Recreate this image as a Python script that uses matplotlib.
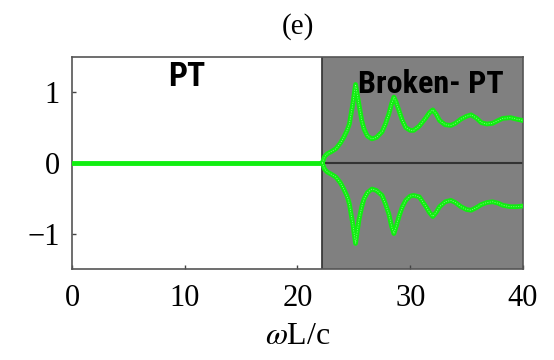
import numpy as np
import matplotlib
matplotlib.use('Agg')
import matplotlib.pyplot as plt
from matplotlib import font_manager

# transition point between PT and broken-PT phase
x_break = 22.2

# unbroken phase: eigenvalue stays at zero
pt_x = [0.0, 22.2]
pt_y = [0.0, 0.0]

# broken phase
bk_x = [22.2, 22.4, 22.65, 23.0, 23.4, 23.8, 24.1, 24.4, 24.6, 24.9, 25.15, 25.45,
        25.7, 25.9, 26.2, 26.6, 27.0, 27.5, 27.8, 28.1, 28.35, 28.55, 28.75, 29.0,
        29.3, 29.6, 30.0, 30.3, 30.8, 31.4, 31.7, 32.0, 32.3, 32.6, 33.1, 33.6,
        34.0, 34.5, 35.0, 35.4, 35.9, 36.3, 36.8, 37.3, 37.8, 38.2, 38.9, 39.4, 40.0]
bk_upper = [0, 0.09, 0.13, 0.16, 0.20, 0.28, 0.36, 0.46, 0.55, 0.83, 1.11, 0.83,
            0.60, 0.48, 0.38, 0.34, 0.36, 0.44, 0.55, 0.69, 0.84, 0.93, 0.86, 0.74,
            0.60, 0.50, 0.46, 0.46, 0.52, 0.64, 0.71, 0.75, 0.69, 0.60, 0.54, 0.53,
            0.56, 0.62, 0.66, 0.68, 0.63, 0.57, 0.55, 0.56, 0.60, 0.63, 0.64, 0.62, 0.60]
bk_lower = [0, -0.09, -0.13, -0.16, -0.20, -0.28, -0.37, -0.47, -0.58, -0.86, -1.14, -0.81,
            -0.62, -0.51, -0.42, -0.37, -0.39, -0.46, -0.58, -0.72, -0.90, -1.00, -0.90, -0.76,
            -0.62, -0.53, -0.47, -0.46, -0.48, -0.62, -0.70, -0.76, -0.70, -0.62, -0.55, -0.53,
            -0.56, -0.62, -0.66, -0.67, -0.63, -0.59, -0.56, -0.55, -0.57, -0.60, -0.62, -0.62, -0.61]

xticks = [0, 10, 20, 30, 40]
yticks = [-1, 0, 1]

plt.rcParams['mathtext.fontset'] = 'stix'
serif = ['Liberation Serif', 'DejaVu Serif']
names = {f.name for f in font_manager.fontManager.ttflist}
narrow = [n for n in ['Roboto Condensed', 'Open Sans Condensed', 'DejaVu Sans Condensed',
                      'Liberation Sans Narrow', 'Roboto'] if n in names] + ['DejaVu Sans']

fig = plt.figure(figsize=(5.54, 3.6), dpi=100)
ax = fig.add_axes([0.130, 0.253, 0.814, 0.589])

ax.axvspan(x_break, 40, color='#808080', zorder=0)
ax.plot([x_break, 40], [0, 0], color='#333333', lw=1.5, zorder=1)
ax.axvline(x_break, color='#333333', lw=1.2, zorder=1)

green = '#11ee11'
ax.plot(pt_x, pt_y, color=green, lw=3.5, zorder=3)
for ys in (bk_upper, bk_lower):
    ax.plot(bk_x, ys, color=green, lw=3.4, zorder=3, solid_joinstyle='round')
    ax.plot(bk_x, ys, color='#99ff99', lw=0.5, ls=(0, (1.5, 2)), zorder=4)

ax.text(10.2, 1.21, 'PT', family=narrow, fontweight='bold', fontsize=24,
        ha='center', va='center')
ax.text(31.8, 1.11, 'Broken- PT', family=narrow, fontweight='bold', fontsize=23,
        ha='center', va='center')

ax.set_xlim(0, 40)
ax.set_ylim(-1.5, 1.5)
ax.set_xticks(xticks)
ax.set_yticks(yticks)
ax.set_yticklabels(['\u22121', '0', '1'])
ax.tick_params(direction='in', length=3, width=1, color='#444444')
ax.tick_params(axis='x', pad=11)
ax.tick_params(axis='y', pad=9)
for lab in ax.get_xticklabels() + ax.get_yticklabels():
    lab.set_family(serif)
    lab.set_fontsize(22)
for s in ax.spines.values():
    s.set_color('#555555')
    s.set_linewidth(1.2)

ax.set_xlabel(r'$\omega$L/c', family=serif, fontsize=23, labelpad=6)
ax.set_title('(e)', family=serif, fontsize=21, pad=17)

fig.savefig('out.png', dpi=100)
